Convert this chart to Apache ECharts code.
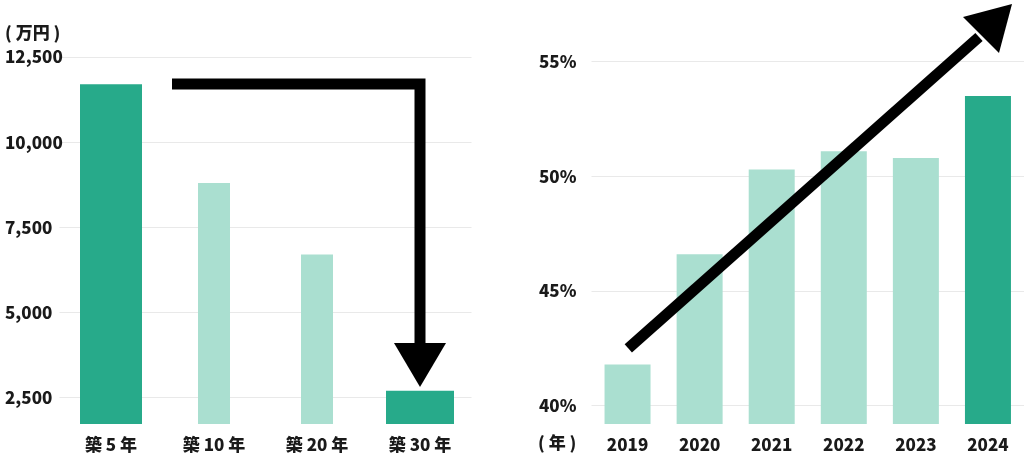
<!DOCTYPE html>
<html>
<head>
<meta charset="utf-8">
<script src="https://cdn.jsdelivr.net/npm/echarts@6/dist/echarts.min.js"></script>
<style>
html,body{margin:0;padding:0;background:#fff;}
#c{width:1024px;height:456px;}
</style>
</head>
<body>
<div id="c"></div>
<script>
// ---- data ----
const ageCategories = ['築 5 年', '築 10 年', '築 20 年', '築 30 年'];
const priceValues = [11700, 8800, 6700, 2700];           // 万円
const priceTicks = [2500, 5000, 7500, 10000, 12500];
const priceUnit = '( 万円 )';

const yearCategories = ['2019', '2020', '2021', '2022', '2023', '2024'];
const shareValues = [41.8, 46.6, 50.3, 51.1, 50.8, 53.5]; // %
const shareTicks = [40, 45, 50, 55];
const yearUnit = '( 年 )';

// ---- styles ----
const DARK = '#27AA8A';
const LIGHT = '#AADFD0';
const TEXT = '#1a1a1a';
const FONT = '"Noto Sans CJK JP", "Noto Sans", sans-serif';
const GRID = '#e9e9e9';

const chart = echarts.init(document.getElementById('c'), null, {renderer: 'canvas'});

function pick(arr, idxs) { return arr.map((v, i) => idxs.includes(i) ? v : null); }

const labelStyle = {color: TEXT, fontFamily: FONT, fontWeight: 900, fontSize: 17};

const option = {
  animation: false,
  grid: [
    {left: 59.5, width: 412, top: 57, bottom: 32},
    {left: 591.5, right: -5.5, top: 61.7, bottom: 32}
  ],
  xAxis: [
    {gridIndex: 0, type: 'category', data: ageCategories,
     axisLine: {show: false}, axisTick: {show: false},
     axisLabel: Object.assign({margin: 12}, labelStyle)},
    {gridIndex: 0, type: 'category', data: ageCategories, show: false},
    {gridIndex: 0, type: 'category', data: ageCategories, show: false},
    {gridIndex: 1, type: 'category', data: yearCategories,
     axisLine: {show: false}, axisTick: {show: false},
     axisLabel: Object.assign({margin: 12}, labelStyle)}
  ],
  yAxis: [
    {gridIndex: 0, type: 'value', min: 1720, max: 12500,
     axisLine: {show: false},
     axisTick: {show: false, customValues: priceTicks},
     splitLine: {show: true, lineStyle: {color: GRID, width: 1}},
     axisLabel: Object.assign({
       customValues: priceTicks, align: 'left', margin: 54.5,
       formatter: v => v.toLocaleString('en-US')
     }, labelStyle)},
    {gridIndex: 1, type: 'value', min: 39.2, max: 55,
     axisLine: {show: false},
     axisTick: {show: false, customValues: shareTicks},
     splitLine: {show: true, lineStyle: {color: GRID, width: 1}},
     axisLabel: Object.assign({
       customValues: shareTicks, align: 'left', margin: 52.5,
       formatter: v => v + '%'
     }, labelStyle)}
  ],
  series: [
    {type: 'bar', xAxisIndex: 0, yAxisIndex: 0, barWidth: 62,
     data: pick(priceValues, [0]), itemStyle: {color: DARK}},
    {type: 'bar', xAxisIndex: 1, yAxisIndex: 0, barWidth: 32,
     data: pick(priceValues, [1, 2]), itemStyle: {color: LIGHT}},
    {type: 'bar', xAxisIndex: 2, yAxisIndex: 0, barWidth: 68,
     data: pick(priceValues, [3]), itemStyle: {color: DARK}},
    {type: 'bar', xAxisIndex: 3, yAxisIndex: 1, barWidth: 46,
     data: shareValues.map((v, i) => ({
       value: v,
       itemStyle: {color: i === shareValues.length - 1 ? DARK : LIGHT}
     }))}
  ],
  graphic: [
    {type: 'text', left: 5, top: 24,
     style: {text: priceUnit, fill: TEXT, font: '900 17px ' + FONT}},
    {type: 'text', left: 538, top: 434,
     style: {text: yearUnit, fill: TEXT, font: '900 17px ' + FONT}},
    // left arrow (annotation)
    {type: 'polyline', z: 100,
     shape: {points: [[172, 84], [420, 84], [420, 346]]},
     style: {stroke: '#000', lineWidth: 11, fill: null, lineJoin: 'miter', lineCap: 'butt'}},
    {type: 'polygon', z: 100,
     shape: {points: [[394, 343], [446, 343], [420, 387]]},
     style: {fill: '#000'}},
    // right arrow (annotation)
    {type: 'line', z: 100,
     shape: {x1: 628.3, y1: 348.3, x2: 979, y2: 37},
     style: {stroke: '#000', lineWidth: 11, lineCap: 'butt'}},
    {type: 'polygon', z: 100,
     shape: {points: [[1012, 4], [963, 17], [999, 53]]},
     style: {fill: '#000'}}
  ]
};
chart.setOption(option);
</script>
</body>
</html>
